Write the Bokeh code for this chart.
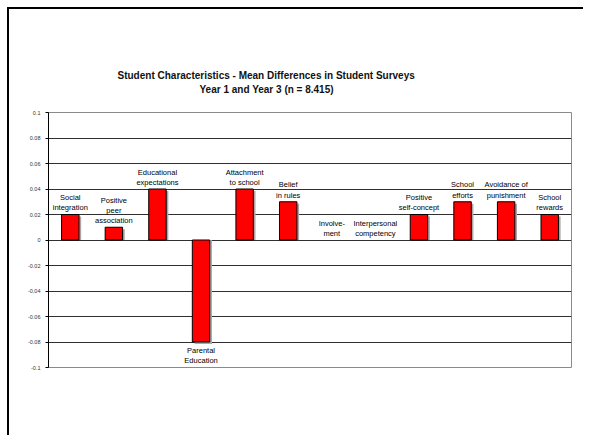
from bokeh.plotting import figure
from bokeh.layouts import column
from bokeh.models import ColumnDataSource, Range1d, FixedTicker, Title
from bokeh.core.properties import value
from bokeh.embed import file_html
from bokeh.resources import INLINE

# ---- data ----
categories = [
    "Social\nintegration",
    "Positive\npeer\nassociation",
    "Educational\nexpectations",
    "Parental\nEducation",
    "Attachment\nto school",
    "Belief\nin rules",
    "Involve-\nment",
    "Interpersonal\ncompetency",
    "Positive\nself-concept",
    "School\nefforts",
    "Avoidance of\npunishment",
    "School\nrewards",
]
mean_diff = [0.02, 0.01, 0.04, -0.08, 0.04, 0.03, 0.0, 0.0, 0.02, 0.03, 0.03, 0.02]
y_ticks = [-0.1, -0.08, -0.06, -0.04, -0.02, 0.0, 0.02, 0.04, 0.06, 0.08, 0.1]
y_tick_labels = ["-0.1", "-0.08", "-0.06", "-0.04", "-0.02", "0", "0.02", "0.04", "0.06", "0.08", "0.1"]
title_lines = ["Student Characteristics - Mean Differences in Student Surveys",
               "Year 1 and Year 3  (n = 8.415)"]

FONT = "Liberation Sans"

n = len(categories)
xs = [i + 0.5 for i in range(n)]
nz = [i for i, v in enumerate(mean_diff) if v != 0]
tops = [max(mean_diff[i], 0) for i in nz]
bottoms = [min(mean_diff[i], 0) for i in nz]
bx = [xs[i] for i in nz]

p = figure(width=574, height=426, output_backend="svg", toolbar_location=None,
           x_range=Range1d(0, n), y_range=Range1d(-0.1, 0.1),
           x_axis_type=None, min_border_left=39, min_border_right=12,
           min_border_top=103, min_border_bottom=68)
p.background_fill_color = "white"
p.border_fill_color = "white"
p.outline_line_color = "#8a8a8a"
p.outline_line_width = 1

# grid
p.ygrid.ticker = FixedTicker(ticks=y_ticks)
p.ygrid.grid_line_color = "#303030"
p.ygrid.grid_line_width = 1

# y axis
ax = p.yaxis[0]
ax.ticker = FixedTicker(ticks=y_ticks)
ax.major_label_overrides = {t: l for t, l in zip(y_ticks, y_tick_labels)}
ax.major_label_text_font = FONT
ax.major_label_text_font_size = "5.5px"
ax.major_label_text_color = "#333333"
ax.major_label_standoff = 5
ax.axis_line_color = "black"
ax.major_tick_line_color = "black"
ax.major_tick_out = 3
ax.major_tick_in = 0
ax.minor_tick_line_color = None

# bars (with light shadow)
shadow_src = ColumnDataSource(dict(
    x=[x + 0.05 for x in bx],
    top=[t - 0.0015 if t > 0 else t for t in tops],
    bottom=[b - 0.0015 if b < 0 else b for b in bottoms]))
p.vbar(x="x", top="top", bottom="bottom", width=0.4, source=shadow_src,
       fill_color="#a8a8a8", line_color=None)
bar_src = ColumnDataSource(dict(x=bx, top=tops, bottom=bottoms))
p.vbar(x="x", top="top", bottom="bottom", width=0.4, source=bar_src,
       fill_color="#ff0000", line_color="black", line_width=1)

# category labels
pos = [i for i, v in enumerate(mean_diff) if v >= 0]
neg = [i for i, v in enumerate(mean_diff) if v < 0]
pos_src = ColumnDataSource(dict(x=[xs[i] for i in pos], y=[mean_diff[i] for i in pos],
                                t=[categories[i] for i in pos]))
neg_src = ColumnDataSource(dict(x=[xs[i] for i in neg], y=[mean_diff[i] for i in neg],
                                t=[categories[i] for i in neg]))
for src, base, off in ((pos_src, "bottom", -2), (neg_src, "top", 4)):
    p.text(x="x", y="y", text="t", source=src, text_align="center",
           text_baseline=base, y_offset=off, text_font=value(FONT),
           text_font_size="7.5px", text_color="black", text_line_height=1.15)

# title (two lines; first added sits nearest the plot)
p.add_layout(Title(text=" ", standoff=4, text_font=FONT, text_font_size="10px"), "above")
for line, so, off in ((title_lines[1], 1, 151), (title_lines[0], 1, 69)):
    p.add_layout(Title(text=line, align="left", offset=off, standoff=so,
                       text_font=FONT, text_font_size="10px",
                       text_font_style="bold", text_color="#111111"), "above")

# slide frame (top and left edges only)
page = column(p, styles={"margin-left": "7px", "margin-top": "7px",
                         "border-left": "2px solid black",
                         "border-top": "2px solid black"})

open("out.html", "w").write(file_html(page, INLINE))
